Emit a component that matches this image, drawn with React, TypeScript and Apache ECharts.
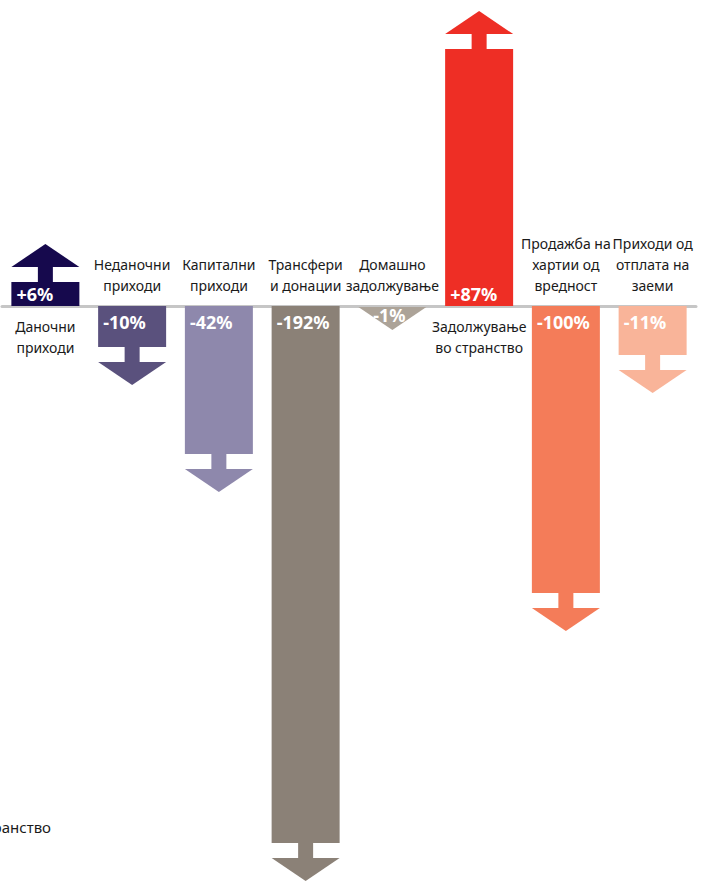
import React, { useEffect, useRef } from "react";
import * as echarts from "echarts";

// Categories (Macedonian labels, line breaks as in the reference)
const categories: string[] = [
  "Даночни\nприходи",
  "Неданочни\nприходи",
  "Капитални\nприходи",
  "Трансфери\nи донации",
  "Домашно\nзадолжување",
  "Задолжување\nво странство",
  "Продажба на\nхартии од\nвредност",
  "Приходи од\nотплата на\nзаеми",
];

// Percentage change shown on each arrow
const pctValues: number[] = [6, -10, -42, -192, -1, 87, -100, -11];

// Visual length of each arrow body (chart units)
const bodyLength: number[] = [24, -41, -148, -537, 0, 257, -287, -49];

const colors: string[] = [
  "#16094d",
  "#5a517d",
  "#8e88ac",
  "#8b8177",
  "#aca398",
  "#ee2e25",
  "#f47c59",
  "#f9b499",
];

const LABEL_FONT = '"Noto Sans", sans-serif';

export default function App() {
  const ref = useRef<HTMLDivElement>(null);

  useEffect(() => {
    if (!ref.current) return;
    const chart = echarts.init(ref.current, undefined, { renderer: "svg" });

    const data = categories.map((c, i) => [i, bodyLength[i], pctValues[i]]);

    const BODY_W = 68;
    const STEM_W = 15;
    const GAP = 15;
    const HEAD = 23;

    const option: any = {
      animation: false,
      backgroundColor: "#ffffff",
      grid: { left: 2, right: 5, top: 0, bottom: 0, containLabel: false },
      xAxis: {
        type: "category",
        data: categories,
        axisLine: { show: true, onZero: true, lineStyle: { color: "#c6c6c6", width: 3 } },
        axisTick: { show: false },
        axisLabel: { show: false },
        splitLine: { show: false },
      },
      yAxis: {
        type: "value",
        min: -575,
        max: 306,
        show: false,
        splitLine: { show: false },
      },
      series: [
        {
          type: "custom",
          data,
          z: 5,
          renderItem: (params: any, api: any) => {
            const idx = api.value(0);
            const len = api.value(1);
            const pct = api.value(2);
            const i = params.dataIndex;
            const base = api.coord([idx, 0]);
            const end = api.coord([idx, len]);
            const cx = base[0];
            const y0 = base[1];
            const y1 = end[1];
            const dir = pct >= 0 ? -1 : 1; // screen direction
            const color = colors[i];
            const children: any[] = [];
            const left = cx - BODY_W / 2;
            const pctText = (pct > 0 ? "+" : "") + pct + "%";

            if (len !== 0) {
              children.push({
                type: "rect",
                shape: { x: left, y: Math.min(y0, y1), width: BODY_W, height: Math.abs(y1 - y0) },
                style: { fill: color },
              });
              const stemEnd = y1 + dir * GAP;
              children.push({
                type: "rect",
                shape: {
                  x: cx - STEM_W / 2,
                  y: Math.min(y1, stemEnd),
                  width: STEM_W,
                  height: GAP + 1,
                },
                style: { fill: color },
              });
              children.push({
                type: "polygon",
                shape: {
                  points: [
                    [left, stemEnd],
                    [left + BODY_W, stemEnd],
                    [cx, stemEnd + dir * HEAD],
                  ],
                },
                style: { fill: color },
              });
              children.push({
                type: "text",
                z2: 10,
                style: {
                  text: pctText,
                  x: left + 5,
                  y: pct > 0 ? y0 - 12 : y0 + 16,
                  fill: "#ffffff",
                  font: 'bold 18px "Noto Sans", sans-serif',
                  textAlign: "left",
                  align: "left",
                  textVerticalAlign: "middle",
                  verticalAlign: "middle",
                },
              });
            } else {
              children.push({
                type: "polygon",
                shape: {
                  points: [
                    [left, y0 + 1],
                    [left + BODY_W, y0 + 1],
                    [cx, y0 + 1 + dir * HEAD],
                  ],
                },
                style: { fill: color },
              });
              children.push({
                type: "text",
                z2: 10,
                style: {
                  text: pctText,
                  x: cx - 3,
                  y: y0 + 9,
                  fill: "#ffffff",
                  font: 'bold 18px "Noto Sans", sans-serif',
                  textAlign: "center",
                  align: "center",
                  textVerticalAlign: "middle",
                  verticalAlign: "middle",
                },
              });
            }

            // category label
            children.push({
              type: "text",
              z2: 10,
              style: {
                text: categories[i],
                x: cx,
                y: pct > 0 ? y0 + 10 : y0 - 10,
                fill: "#1a1a1a",
                font: "14px " + LABEL_FONT,
                lineHeight: 21,
                textAlign: "center",
                align: "center",
                textVerticalAlign: pct > 0 ? "top" : "bottom",
                verticalAlign: pct > 0 ? "top" : "bottom",
              },
            });

            return { type: "group", children };
          },
        },
      ],
      graphic: [
        {
          type: "text",
          right: 650,
          top: 819,
          style: {
            text: "странство",
            fill: "#1a1a1a",
            font: "15px " + LABEL_FONT,
          },
        },
      ],
    };

    chart.setOption(option);
    return () => chart.dispose();
  }, []);

  return (
    <div
      ref={ref}
      style={{ position: "absolute", left: 0, top: 0, width: 701, height: 881, background: "#fff" }}
    />
  );
}
